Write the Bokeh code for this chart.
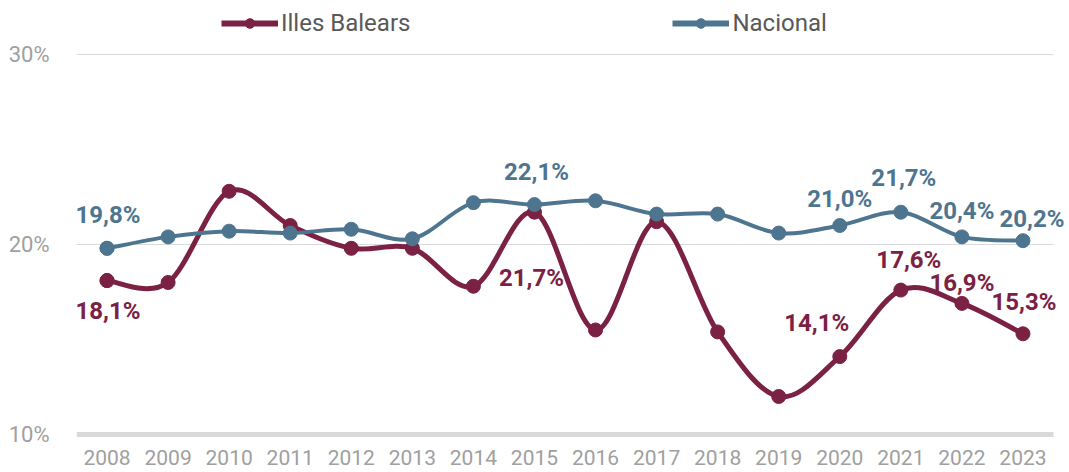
from bokeh.plotting import figure
from bokeh.models import ColumnDataSource, Legend, LegendItem, FixedTicker, Range1d, Label
from bokeh.embed import file_html
from bokeh.resources import INLINE

years = list(range(2008, 2024))
illes = [18.1, 18.0, 22.8, 21.0, 19.8, 19.8, 17.8, 21.7, 15.5, 21.2, 15.4, 12.0, 14.1, 17.6, 16.9, 15.3]
nacional = [19.8, 20.4, 20.7, 20.6, 20.8, 20.3, 22.2, 22.1, 22.3, 21.6, 21.6, 20.6, 21.0, 21.7, 20.4, 20.2]
y_ticks = [10, 20, 30]

illes_label_years = [2008, 2015, 2020, 2021, 2022, 2023]
nac_label_years = [2008, 2015, 2020, 2021, 2022, 2023]

# label offsets (screen px, +dy = downwards)
illes_dx = [1, -3, -23, 8, 0, 1]
illes_dy = [30, 66, -34, -30, -20, -32]
nac_dx = [1, 2, 0, 3, 0, 9]
nac_dy = [-33, -33, -26, -34, -26, -22]

C_ILLES = "#7B2144"
C_NAC = "#4E7590"
FONT = "Roboto"

XMIN, XMAX = years[0] - 0.5, years[-1] + 0.5

p = figure(width=1069, height=472, output_backend="svg", toolbar_location=None,
           x_range=Range1d(XMIN, XMAX + 0.262), y_range=Range1d(9.842, 32.42),
           min_border_left=76, min_border_right=0, min_border_top=8, min_border_bottom=35)
p.outline_line_color = None
p.background_fill_color = "white"
p.border_fill_color = "white"

# gridlines and baseline limited to the category area
p.segment(x0=[XMIN, XMIN], y0=y_ticks[1:], x1=[XMAX, XMAX], y1=y_ticks[1:],
          line_color="#D9D9D9", line_width=1)
p.segment(x0=[XMIN], y0=[y_ticks[0]], x1=[XMAX], y1=[y_ticks[0]],
          line_color="#D9D9D9", line_width=5)


def bezier_src(xs, ys):
    n = len(xs)
    d = dict(x0=[], y0=[], x1=[], y1=[], cx0=[], cy0=[], cx1=[], cy1=[])
    for i in range(n - 1):
        p0 = (xs[max(i - 1, 0)], ys[max(i - 1, 0)])
        p1 = (xs[i], ys[i])
        p2 = (xs[i + 1], ys[i + 1])
        p3 = (xs[min(i + 2, n - 1)], ys[min(i + 2, n - 1)])
        d["x0"].append(p1[0]); d["y0"].append(p1[1])
        d["x1"].append(p2[0]); d["y1"].append(p2[1])
        d["cx0"].append(p1[0] + (p2[0] - p0[0]) / 6.0)
        d["cy0"].append(p1[1] + (p2[1] - p0[1]) / 6.0)
        d["cx1"].append(p2[0] - (p3[0] - p1[0]) / 6.0)
        d["cy1"].append(p2[1] - (p3[1] - p1[1]) / 6.0)
    return ColumnDataSource(d)


p.bezier(x0="x0", y0="y0", x1="x1", y1="y1", cx0="cx0", cy0="cy0", cx1="cx1", cy1="cy1",
         source=bezier_src(years, illes), line_color=C_ILLES, line_width=5)
p.scatter(years, illes, size=14, color=C_ILLES, marker="circle")

p.bezier(x0="x0", y0="y0", x1="x1", y1="y1", cx0="cx0", cy0="cy0", cx1="cx1", cy1="cy1",
         source=bezier_src(years, nacional), line_color=C_NAC, line_width=4)
p.scatter(years, nacional, size=14, color=C_NAC, marker="circle")

# legend proxies (hidden under real points)
leg_il_line = p.line([years[0]], [illes[0]], line_color=C_ILLES, line_width=6)
leg_il_pt = p.scatter([years[0]], [illes[0]], size=14, color=C_ILLES)
leg_na_line = p.line([years[0]], [nacional[0]], line_color=C_NAC, line_width=6)
leg_na_pt = p.scatter([years[0]], [nacional[0]], size=14, color=C_NAC)


def fmt(v):
    return f"{v:.1f}%".replace(".", ",")


for yr, dx, dy in zip(illes_label_years, illes_dx, illes_dy):
    v = illes[years.index(yr)]
    p.add_layout(Label(x=yr, y=v, text=fmt(v), x_offset=dx, y_offset=-dy, text_align="center",
                       text_baseline="middle", text_color=C_ILLES, text_font=FONT,
                       text_font_style="bold", text_font_size="24px"))
for yr, dx, dy in zip(nac_label_years, nac_dx, nac_dy):
    v = nacional[years.index(yr)]
    p.add_layout(Label(x=yr, y=v, text=fmt(v), x_offset=dx, y_offset=-dy, text_align="center",
                       text_baseline="middle", text_color=C_NAC, text_font=FONT,
                       text_font_style="bold", text_font_size="24px"))

# axes
p.xaxis.ticker = FixedTicker(ticks=years)
p.xaxis.axis_line_color = None
p.xaxis.major_tick_line_color = None
p.xaxis.minor_tick_line_color = None
p.xaxis.major_label_text_color = "#A0A0A0"
p.xaxis.major_label_text_font = FONT
p.xaxis.major_label_text_font_size = "21px"
p.xaxis.major_label_standoff = 6

p.yaxis.ticker = FixedTicker(ticks=y_ticks)
p.yaxis.major_label_overrides = {t: f"{t}%" for t in y_ticks}
p.yaxis.axis_line_color = None
p.yaxis.major_tick_line_color = None
p.yaxis.minor_tick_line_color = None
p.yaxis.major_label_text_color = "#A0A0A0"
p.yaxis.major_label_text_font = FONT
p.yaxis.major_label_text_font_size = "22px"
p.yaxis.major_label_standoff = 21

p.xgrid.grid_line_color = None
p.ygrid.grid_line_color = None

legend = Legend(items=[LegendItem(label="Illes Balears", renderers=[leg_il_line, leg_il_pt]),
                       LegendItem(label="Nacional", renderers=[leg_na_line, leg_na_pt])],
                orientation="horizontal", location=(145, 400), spacing=262,
                glyph_width=57, glyph_height=24, label_standoff=3, padding=0, margin=0,
                border_line_color=None, background_fill_alpha=0,
                label_text_font=FONT, label_text_font_size="24px", label_text_color="#595959")
p.add_layout(legend, "center")

open("out.html", "w").write(file_html(p, INLINE))
